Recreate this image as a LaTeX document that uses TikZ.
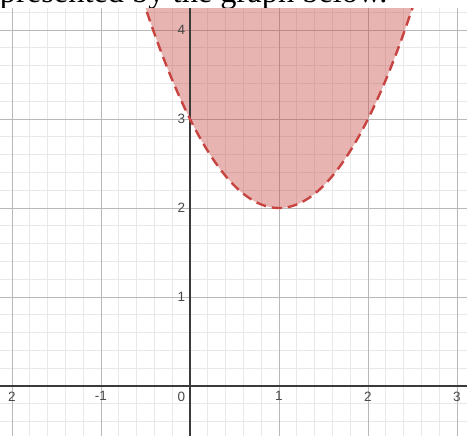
\documentclass[tikz,border=0pt]{standalone}
\usepackage{fontspec}
\setmainfont{Liberation Serif}
\newfontfamily\ticksans{Liberation Sans}
\definecolor{dred}{HTML}{C74440}
\definecolor{minorgrid}{HTML}{E8E8E8}
\definecolor{majorgrid}{HTML}{B8B8B8}
\definecolor{axiscol}{HTML}{3A3A3A}
\definecolor{labelcol}{HTML}{484848}
\tikzset{
  minorline/.style={draw=minorgrid, line width=0.8pt},
  majorline/.style={draw=majorgrid, line width=0.9pt},
  axisline/.style={draw=axiscol, line width=1.5pt},
  curveline/.style={draw=dred, line width=2.4pt, dash pattern=on 10pt off 6pt},
  regionfill/.style={fill=dred, fill opacity=0.4},
  ticklabel/.style={font=\ticksans\fontsize{13.5}{15}\selectfont, text=labelcol, inner sep=1pt}
}
\begin{document}
\begin{tikzpicture}[x=89pt,y=89pt]
\useasboundingbox (-2.1348,-0.5506) rectangle (3.1124,4.3371);
\clip (-2.1348,-0.5506) rectangle (3.1124,4.3371);
\node[anchor=base west, font=\fontsize{32.4}{36}\selectfont, inner sep=0pt] (caption) at (-2.42,4.31) {represented by the graph below.};
\fill[white] (-2.2,-0.6) rectangle (3.2,4.247);
\begin{scope}
  \clip (-2.2,-0.6) rectangle (3.2,4.247);
  \draw[minorline] (-2.2,-0.6) grid[step=0.2] (3.2,4.4);
  \draw[majorline] (-3,-1) grid[step=1] (4,5);
  \fill[regionfill] plot[domain=-0.7:2.7, samples=120] (\x,{(\x-1)^2+2}) -- cycle;
  \draw[axisline] (-2.2,0) -- (3.2,0);
  \draw[axisline] (0,-0.6) -- (0,4.4);
  \draw[curveline] plot[domain=-0.7:2.7, samples=160] (\x,{(\x-1)^2+2});
\end{scope}
\node[ticklabel, anchor=north] (xm2) at (-2,-0.05) {2};
\node[ticklabel, anchor=north] (xm1) at (-1,-0.05) {-1};
\node[ticklabel, anchor=north east] (x0) at (-0.04,-0.05) {0};
\node[ticklabel, anchor=north] (x1) at (1,-0.05) {1};
\node[ticklabel, anchor=north] (x2) at (2,-0.05) {2};
\node[ticklabel, anchor=north] (x3) at (3,-0.05) {3};
\node[ticklabel, anchor=east] (y1) at (-0.04,1) {1};
\node[ticklabel, anchor=east] (y2) at (-0.04,2) {2};
\node[ticklabel, anchor=east] (y3) at (-0.04,3) {3};
\node[ticklabel, anchor=east] (y4) at (-0.04,4) {4};
\end{tikzpicture}
\end{document}
